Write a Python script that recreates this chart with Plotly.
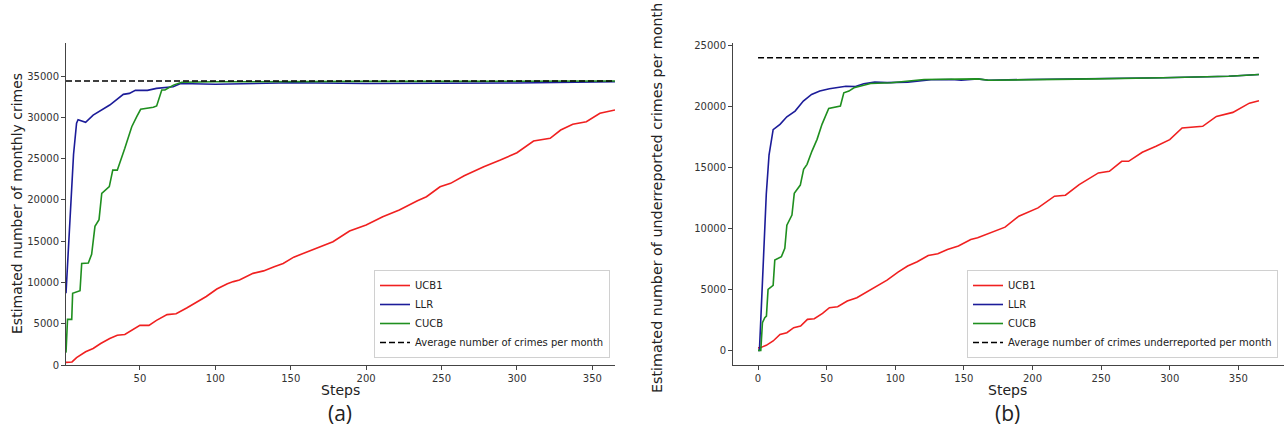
import plotly.graph_objects as go

# ---------------- Data (a) ----------------
a_ucb1_x = [1, 5, 8, 14, 19, 24, 30, 35, 40, 46, 50, 56, 61, 68, 74, 81, 88, 94, 101, 108, 112, 116, 125, 132,
            139, 145, 152, 158, 167, 178, 189, 200, 211, 222, 234, 240, 249, 256, 265, 278, 289, 300, 311, 322,
            329, 337, 346, 355, 365]
a_ucb1_y = [320, 370, 890, 1600, 2000, 2600, 3200, 3600, 3700, 4300, 4800, 4800, 5400, 6100, 6200, 6900, 7640,
            8300, 9200, 9850, 10100, 10300, 11100, 11400, 11900, 12300, 13060, 13500, 14130, 14930, 16230, 16950,
            17960, 18770, 19900, 20380, 21590, 22000, 22930, 24020, 24830, 25710, 27130, 27450, 28460, 29150,
            29460, 30480, 30880]

a_llr_x = [1, 2.5, 4, 6, 8, 9, 14, 19, 30, 35, 39, 43, 47, 55, 61, 72, 77, 100, 150, 200, 250, 300, 365]
a_llr_y = [8700, 14000, 20000, 25500, 29300, 29700, 29400, 30270, 31490, 32200, 32780, 32900, 33260, 33260,
           33500, 33700, 34100, 34000, 34190, 34100, 34100, 34150, 34300]

a_cucb_x = [1, 2, 4.8, 5.4, 10.3, 11.4, 15.8, 18, 20.2, 22.9, 24.7, 29.7, 32, 35, 40, 44.6, 47.9, 50.5, 58.9,
            61.1, 64.5, 66.6, 72.2, 77.7, 100, 150, 200, 250, 300, 365]
a_cucb_y = [1500, 5530, 5530, 8680, 9000, 12300, 12350, 13400, 16800, 17600, 20790, 21600, 23600, 23600, 26240,
            28860, 30080, 30970, 31210, 31370, 33300, 33300, 33900, 34240, 34300, 34350, 34350, 34350, 34350, 34400]

a_avg_x = [1, 365]
a_avg_y = [34400, 34400]

# ---------------- Data (b) ----------------
b_ucb1_x = [0, 1.6, 6, 11, 16, 21, 26, 31, 36, 41, 47, 52, 58, 65, 72, 80, 87, 94, 102, 109, 116, 124, 131, 138,
            146, 155, 160, 172, 180, 190, 204, 216, 224, 234, 248, 256, 265, 270, 280, 290, 300, 309, 324, 334,
            346, 358, 365]
b_ucb1_y = [200, 220, 410, 770, 1310, 1450, 1860, 2000, 2540, 2590, 3030, 3500, 3580, 4040, 4320, 4860, 5350,
            5760, 6420, 6910, 7260, 7780, 7920, 8270, 8550, 9090, 9230, 9780, 10100, 11000, 11680, 12640, 12720,
            13590, 14550, 14680, 15500, 15500, 16240, 16730, 17280, 18230, 18370, 19180, 19510, 20270, 20460]

b_llr_x = [0, 1, 2, 4, 6, 8, 10, 11, 16, 21, 27, 33, 39, 45, 52, 58, 64, 71, 77, 85, 94, 109, 126, 141, 148,
           160, 168, 197, 246, 295, 343, 365]
b_llr_y = [0, 0, 2500, 7500, 12800, 16000, 17570, 18100, 18530, 19150, 19620, 20440, 20980, 21260, 21450,
           21530, 21660, 21630, 21860, 21990, 21950, 21990, 22190, 22210, 22150, 22260, 22150, 22210, 22260,
           22350, 22480, 22620]

b_cucb_x = [0, 2, 3.2, 4.9, 6.1, 7.3, 11, 12.2, 17, 19.5, 21, 24.7, 26.4, 30.8, 33.2, 35.7, 39.3, 43, 46.6,
            51.5, 60, 62.5, 66.2, 69.9, 82, 97, 121, 146, 160, 168, 197, 246, 295, 343, 365]
b_cucb_y = [0, 0, 2270, 2680, 2810, 5000, 5330, 7400, 7680, 8360, 10270, 11090, 12870, 13550, 14840, 15250,
            16340, 17300, 18530, 19840, 20030, 21120, 21260, 21530, 21880, 21940, 22210, 22260, 22260, 22150,
            22210, 22260, 22350, 22480, 22620]

b_avg_x = [0, 365]
b_avg_y = [24000, 24000]

a_yticks = [0, 5000, 10000, 15000, 20000, 25000, 30000, 35000]
b_yticks = [0, 5000, 10000, 15000, 20000, 25000]
a_xticks = [50, 100, 150, 200, 250, 300, 350]
b_xticks = [0, 50, 100, 150, 200, 250, 300, 350]

names = ["UCB1", "LLR", "CUCB"]
colors = ["#f02020", "#1c1c99", "#1f8f1f"]

fig = go.Figure()

def add_panel(xa, ya, xsets, ysets, avg_x, avg_y, avg_name, legend):
    for nm, col, xs, ys in zip(names, colors, xsets, ysets):
        fig.add_trace(go.Scatter(x=xs, y=ys, mode="lines", name=nm, line=dict(color=col, width=1.6),
                                 xaxis=xa, yaxis=ya, legend=legend))
    fig.add_trace(go.Scatter(x=avg_x, y=avg_y, mode="lines", name=avg_name,
                             line=dict(color="black", width=1.5, dash="6px,3px"),
                             xaxis=xa, yaxis=ya, legend=legend))

add_panel("x", "y", [a_ucb1_x, a_llr_x, a_cucb_x], [a_ucb1_y, a_llr_y, a_cucb_y],
          a_avg_x, a_avg_y, "Average number of crimes per month", "legend")
add_panel("x2", "y2", [b_ucb1_x, b_llr_x, b_cucb_x], [b_ucb1_y, b_llr_y, b_cucb_y],
          b_avg_x, b_avg_y, "Average number of crimes underreported per month", "legend2")

W, H = 1285, 439
ydom = [(H - 365) / H, (H - 43) / H]
axis_common = dict(showline=True, linecolor="#444", linewidth=1, ticks="outside", ticklen=4,
                   tickcolor="#444", showgrid=False, zeroline=False, automargin=False,
                   tickfont=dict(family="DejaVu Sans", size=10, color="#333"))

leg_common = dict(bgcolor="rgba(255,255,255,0.9)", bordercolor="#d0d0d0", borderwidth=1,
                  font=dict(family="DejaVu Sans", size=10, color="#222"), xanchor="right", yanchor="bottom",
                  tracegroupgap=0, itemwidth=30)

fig.update_layout(
    width=W, height=H, plot_bgcolor="white", paper_bgcolor="white",
    margin=dict(l=0, r=0, t=0, b=0, autoexpand=False), showlegend=True,
    xaxis=dict(domain=[66 / W, 615 / W], range=[1, 365], tickvals=a_xticks,
               ticktext=[str(v) for v in a_xticks], anchor="y", **axis_common),
    yaxis=dict(domain=ydom, range=[0, 39000], tickvals=a_yticks, ticktext=[str(v) for v in a_yticks],
               anchor="x", **axis_common),
    xaxis2=dict(domain=[733 / W, 1284 / W], range=[-18.25, 383.25], tickvals=b_xticks,
                ticktext=[str(v) for v in b_xticks], anchor="y2", **axis_common),
    yaxis2=dict(domain=ydom, range=[-1200, 25200], tickvals=b_yticks, ticktext=[str(v) for v in b_yticks],
                anchor="x2", **axis_common),
    legend=dict(x=610 / W, y=(H - 358) / H, **leg_common),
    legend2=dict(x=1278 / W, y=(H - 358) / H, **leg_common),
)

ann_font = dict(family="DejaVu Sans", size=14, color="#222")
fig.add_annotation(text="Steps", x=340 / W, y=(H - 390) / H, xref="paper", yref="paper",
                   showarrow=False, font=ann_font, xanchor="center", yanchor="middle")
fig.add_annotation(text="Steps", x=1007 / W, y=(H - 390) / H, xref="paper", yref="paper",
                   showarrow=False, font=ann_font, xanchor="center", yanchor="middle")
fig.add_annotation(text="Estimated number of monthly crimes", x=17 / W, y=(H - 204) / H, xref="paper",
                   yref="paper", showarrow=False, font=ann_font, textangle=-90, xanchor="center",
                   yanchor="middle")
fig.add_annotation(text="Estimated number of underreported crimes per month", x=657 / W, y=(H - 198) / H,
                   xref="paper", yref="paper", showarrow=False, font=dict(ann_font, size=14.3), textangle=-90,
                   xanchor="center", yanchor="middle")
sub_font = dict(family="Open Sans", size=21, color="#222")
fig.add_annotation(text="(a)", x=340 / W, y=(H - 413) / H, xref="paper", yref="paper", showarrow=False,
                   font=sub_font, xanchor="center", yanchor="middle")
fig.add_annotation(text="(b)", x=1007 / W, y=(H - 413) / H, xref="paper", yref="paper", showarrow=False,
                   font=sub_font, xanchor="center", yanchor="middle")

fig.write_html("out.html", config={"displayModeBar": False},
               post_script="document.body.style.margin='0';document.body.style.padding='0';")
